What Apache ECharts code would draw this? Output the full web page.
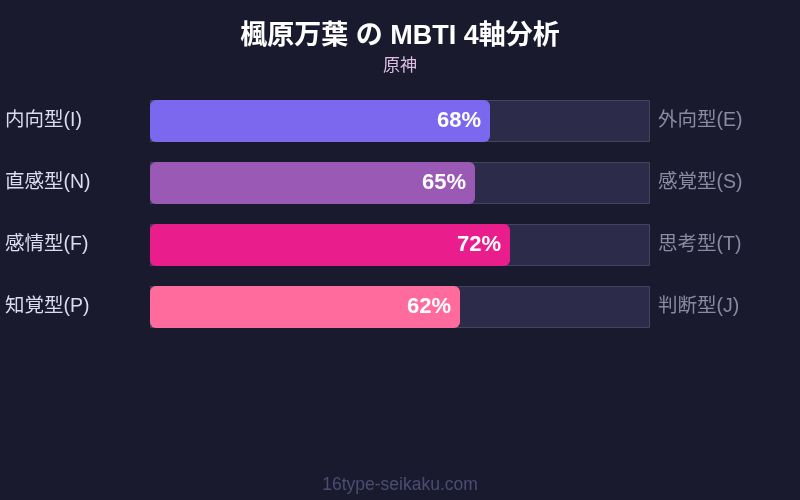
<!DOCTYPE html>
<html>
<head>
<meta charset="utf-8">
<script src="https://cdn.jsdelivr.net/npm/echarts@6/dist/echarts.min.js"></script>
<style>
  html, body { margin: 0; padding: 0; background: #1a1a2e; }
  #chart { width: 800px; height: 500px; }
</style>
</head>
<body>
<div id="chart"></div>
<script>
var leftLabels = ['内向型(I)', '直感型(N)', '感情型(F)', '知覚型(P)'];
var rightLabels = ['外向型(E)', '感覚型(S)', '思考型(T)', '判断型(J)'];
var percents = [68, 65, 72, 62];
var barColors = ['#7b68ee', '#9b59b6', '#e91e8c', '#ff6b9d'];

var font = "'Liberation Sans', 'Noto Sans CJK JP', sans-serif";

var fillData = percents.map(function (v, i) {
    return { value: v, itemStyle: { color: barColors[i] } };
});
var trackData = percents.map(function () { return 100; });

var option = {
    backgroundColor: '#1a1a2e',
    animation: false,
    title: {
        text: '楓原万葉 の MBTI 4軸分析',
        subtext: '原神',
        left: 'center',
        top: 18,
        itemGap: 8,
        textStyle: { color: '#ffffff', fontSize: 27, fontWeight: 'bold', fontFamily: font },
        subtextStyle: { color: '#dcc0e4', fontSize: 17, fontFamily: font }
    },
    graphic: [{
        type: 'text',
        left: 'center',
        top: 476,
        style: { text: '16type-seikaku.com', fill: '#4c4c72', fontSize: 17.5, fontFamily: font }
    }],
    grid: { left: 150, right: 150, top: 90, bottom: 162 },
    xAxis: { type: 'value', min: 0, max: 100, show: false },
    yAxis: [{
        type: 'category',
        data: leftLabels,
        inverse: true,
        position: 'left',
        axisLine: { show: false },
        axisTick: { show: false },
        axisLabel: {
            color: '#dcdcec', fontSize: 19.5, fontFamily: font,
            align: 'left', margin: 145
        }
    }, {
        type: 'category',
        data: rightLabels,
        inverse: true,
        position: 'right',
        axisLine: { show: false },
        axisTick: { show: false },
        axisLabel: {
            color: '#8a8aa0', fontSize: 19.5, fontFamily: font,
            align: 'left', margin: 8
        }
    }],
    series: [{
        type: 'bar',
        data: trackData,
        barWidth: 42,
        silent: true,
        itemStyle: { color: '#2d2b4a', borderColor: '#45435f', borderWidth: 1 },
        z: 1
    }, {
        type: 'bar',
        data: fillData,
        barWidth: 42,
        barGap: '-100%',
        itemStyle: { borderRadius: 6 },
        label: {
            show: true,
            position: 'insideRight',
            distance: 9,
            formatter: '{c}%',
            color: '#ffffff',
            fontSize: 22,
            fontWeight: 'bold',
            fontFamily: font
        },
        z: 2
    }]
};

var myChart = echarts.init(document.getElementById('chart'));
myChart.setOption(option);
</script>
</body>
</html>
